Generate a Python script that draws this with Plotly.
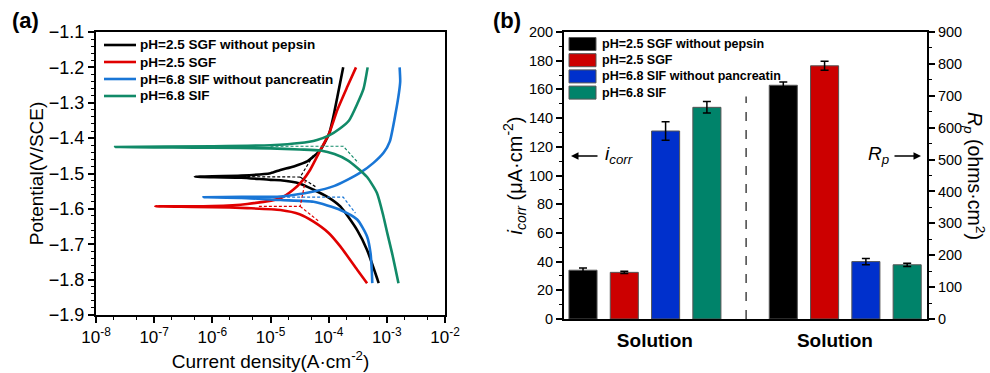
import numpy as np
import plotly.graph_objects as go

# ---------------- Panel (a): Tafel polarization data ----------------
series_names = ["pH=2.5 SGF without pepsin", "pH=2.5 SGF",
                "pH=6.8 SIF without pancreatin", "pH=6.8 SIF"]
line_colors = ["#000000", "#E00000", "#1976D6", "#118A68"]

# log10(current density) and potential for each branch
black_anodic_logi = [-6.30, -5.5, -5.0, -4.83, -4.6, -4.37, -4.14, -3.99, -3.92, -3.85, -3.75]
black_anodic_E    = [-1.509, -1.506, -1.499, -1.49, -1.48, -1.466, -1.433, -1.386, -1.34, -1.283, -1.20]
black_cath_logi   = [-6.30, -5.5, -5.0, -4.83, -4.5, -4.26, -4.0, -3.80, -3.51, -3.34, -3.16, -3.14]
black_cath_E      = [-1.509, -1.512, -1.518, -1.519, -1.528, -1.546, -1.568, -1.593, -1.66, -1.716, -1.80, -1.81]

red_anodic_logi = [-6.98, -6.0, -5.4, -4.83, -4.61, -4.45, -4.32, -4.14, -3.99, -3.85, -3.68, -3.53]
red_anodic_E    = [-1.593, -1.592, -1.586, -1.57, -1.546, -1.52, -1.49, -1.433, -1.386, -1.32, -1.255, -1.20]
red_cath_logi   = [-6.98, -6.0, -5.4, -4.83, -4.5, -4.26, -4.0, -3.80, -3.51, -3.34]
red_cath_E      = [-1.593, -1.595, -1.598, -1.603, -1.615, -1.636, -1.668, -1.706, -1.772, -1.81]

blue_anodic_logi = [-6.15, -5.5, -4.83, -4.26, -3.9, -3.68, -3.45, -3.23, -3.05, -2.95, -2.85, -2.79, -2.77, -2.78]
blue_anodic_E    = [-1.567, -1.566, -1.565, -1.551, -1.535, -1.518, -1.497, -1.47, -1.44, -1.41, -1.33, -1.27, -1.24, -1.20]
blue_cath_logi   = [-6.15, -5.5, -4.83, -4.26, -3.80, -3.51, -3.34, -3.28, -3.26, -3.25]
blue_cath_E      = [-1.567, -1.569, -1.575, -1.58, -1.603, -1.63, -1.678, -1.725, -1.77, -1.81]

green_anodic_logi = [-7.67, -6.0, -5.0, -4.5, -4.2, -4.0, -3.8, -3.65, -3.5, -3.4, -3.33]
green_anodic_E    = [-1.425, -1.423, -1.420, -1.414, -1.405, -1.393, -1.372, -1.35, -1.30, -1.26, -1.20]
green_cath_logi   = [-7.67, -6.0, -5.0, -4.5, -4.14, -3.9, -3.68, -3.5, -3.34, -3.17, -3.06, -2.99, -2.91, -2.80]
green_cath_E      = [-1.425, -1.427, -1.429, -1.432, -1.435, -1.445, -1.462, -1.485, -1.51, -1.555, -1.62, -1.67, -1.725, -1.81]

# Tafel extrapolation (dashed) lines: log10(i), E
black_fit_logi = [-5.4, -4.49, -4.26, None, -4.49, -4.20]
black_fit_E    = [-1.509, -1.510, -1.448, None, -1.510, -1.540]
red_fit_logi   = [-5.2, -4.49, -4.40, None, -4.49, -4.17]
red_fit_E      = [-1.593, -1.593, -1.52, None, -1.593, -1.635]
blue_fit_logi  = [-4.8, -3.75, -3.54]
blue_fit_E     = [-1.567, -1.567, -1.612]
green_fit_logi = [-5.0, -3.75, -3.49]
green_fit_E    = [-1.423, -1.423, -1.47]

# ---------------- Panel (b): bar data ----------------
bar_colors = ["#000000", "#CC0000", "#0030CC", "#00836A"]
icorr_vals = [34.0, 32.5, 131.0, 147.5]        # µA·cm^-2
icorr_err  = [1.5, 0.8, 6.5, 4.0]
rp_vals    = [733.0, 794.0, 180.0, 170.0]      # ohms·cm^2
rp_err     = [10.0, 14.0, 10.0, 5.0]
group_labels = ["Solution", "Solution"]

fig = go.Figure()

curves = [
    (black_cath_logi, black_cath_E, black_anodic_logi, black_anodic_E),
    (red_cath_logi, red_cath_E, red_anodic_logi, red_anodic_E),
    (blue_cath_logi, blue_cath_E, blue_anodic_logi, blue_anodic_E),
    (green_cath_logi, green_cath_E, green_anodic_logi, green_anodic_E),
]
fits = [(black_fit_logi, black_fit_E), (red_fit_logi, red_fit_E),
        (blue_fit_logi, blue_fit_E), (green_fit_logi, green_fit_E)]

def to_current(logs):
    return [None if v is None else 10 ** v for v in logs]

for k, (cl, ce, al, ae) in enumerate(curves):
    logi = list(reversed(cl)) + al[1:]
    E = list(reversed(ce)) + ae[1:]
    fig.add_trace(go.Scatter(
        x=to_current(logi), y=E, mode="lines", name=series_names[k], showlegend=False,
        line=dict(color=line_colors[k], width=2.6, shape="spline", smoothing=0.6),
        xaxis="x", yaxis="y"))
for k, (fl, fe) in enumerate(fits):
    fig.add_trace(go.Scatter(
        x=to_current(fl), y=fe, mode="lines", showlegend=False,
        line=dict(color=line_colors[k], width=1.2, dash="3px,2px"),
        connectgaps=False, xaxis="x", yaxis="y"))

pos_icorr = [i + 1 for i in range(4)]
pos_rp = [i + 5.85 for i in range(4)]
for k in range(4):
    fig.add_trace(go.Bar(
        x=[pos_icorr[k]], y=[icorr_vals[k]], width=0.68, name=series_names[k], showlegend=False,
        marker=dict(color=bar_colors[k], line=dict(color="#555555", width=1)),
        error_y=dict(type="data", array=[icorr_err[k]], color="#000000", thickness=1.5, width=4),
        xaxis="x2", yaxis="y2"))
    fig.add_trace(go.Bar(
        x=[pos_rp[k]], y=[rp_vals[k]], width=0.68, name=series_names[k], showlegend=False,
        marker=dict(color=bar_colors[k], line=dict(color="#555555", width=1)),
        error_y=dict(type="data", array=[rp_err[k]], color="#000000", thickness=1.5, width=4),
        xaxis="x2", yaxis="y3"))

FONT = "Liberation Sans, Arial, sans-serif"
W, H = 990, 373
def px(x):
    return x / W
def py(y):
    return 1 - y / H

axis_common = dict(showline=True, linewidth=2, linecolor="#000000", mirror=True,
                   ticks="outside", tickwidth=1.5, ticklen=6, tickcolor="#000000",
                   showgrid=False, zeroline=False, automargin=False)

decades = [-8, -7, -6, -5, -4, -3, -2]

def ann(text, x, y, size, xanchor="center", **kw):
    d = dict(text=text, x=px(x), y=py(y), xref="paper", yref="paper",
             xanchor=xanchor, yanchor="middle", showarrow=False, font=dict(size=size))
    d.update(kw)
    return d

shapes = [dict(type="line", xref="x2", yref="y2", x0=4.95, x1=4.95, y0=0, y1=155,
               line=dict(color="#444444", width=1.5, dash="dash"))]
annotations = [
    ann("<b>(a)</b>", 25, 20, 22),
    ann("<b>(b)</b>", 507, 20, 22),
    dict(text="", x=px(571), y=py(156), xref="paper", yref="paper",
         ax=28, ay=0, showarrow=True, arrowhead=2, arrowsize=1, arrowwidth=1.5, arrowcolor="#000000"),
    ann("<i>i<sub>corr</sub></i>", 603, 155, 19, xanchor="left"),
    dict(text="", x=px(921), y=py(156), xref="paper", yref="paper",
         ax=-28, ay=0, showarrow=True, arrowhead=2, arrowsize=1, arrowwidth=1.5, arrowcolor="#000000"),
    ann("<i>R<sub>p</sub></i>", 891, 155, 19, xanchor="right"),
    ann("<i>R<sub>p</sub></i> (ohms·cm<sup>2</sup>)", 975, 176, 19.5, textangle=90),
]
# legend of panel (a): coloured lines with labels
for k in range(4):
    yc = 45 + 17 * k
    shapes.append(dict(type="line", xref="paper", yref="paper",
                       x0=px(104), x1=px(136), y0=py(yc), y1=py(yc),
                       line=dict(color=line_colors[k], width=2.6)))
    annotations.append(dict(text=series_names[k], x=px(138), y=py(yc), xref="paper", yref="paper",
                            xanchor="left", yanchor="middle", showarrow=False,
                            font=dict(size=13.5, weight="bold")))
# legend of panel (b): coloured boxes with labels
for k in range(4):
    yc = 44 + 16.2 * k
    shapes.append(dict(type="rect", xref="paper", yref="paper",
                       x0=px(569), x1=px(596), y0=py(yc + 6.5), y1=py(yc - 6.5),
                       fillcolor=bar_colors[k], line=dict(color="#555555", width=1)))
    annotations.append(dict(text=series_names[k], x=px(600), y=py(yc), xref="paper", yref="paper",
                            xanchor="left", yanchor="middle", showarrow=False,
                            font=dict(size=12.5, weight="bold")))

fig.update_layout(
    width=W, height=H, margin=dict(l=0, r=0, t=0, b=0, autoexpand=False),
    template="none", showlegend=False,
    paper_bgcolor="white", plot_bgcolor="white",
    font=dict(family=FONT, color="#000000"),
    barmode="overlay",
    xaxis=dict(domain=[px(96), px(445)], anchor="y", type="log", range=[-8, -2],
               tickvals=[10 ** d for d in decades],
               ticktext=["10<sup>%d</sup>" % d for d in decades],
               tickfont=dict(size=17),
               minor=dict(ticks="outside", ticklen=3, tickcolor="#000000", tickwidth=1),
               title=dict(text="Current density(A·cm<sup>-2</sup>)", font=dict(size=19), standoff=8),
               **axis_common),
    yaxis=dict(domain=[py(315), py(32)], anchor="x", range=[-1.9, -1.1],
               dtick=0.1, tickformat=".1f", tickfont=dict(size=18),
               minor=dict(dtick=0.02, ticks="outside", ticklen=3, tickcolor="#000000", tickwidth=1),
               title=dict(text="Potential(V/SCE)", font=dict(size=19), standoff=0),
               **axis_common),
    xaxis2=dict(domain=[px(564), px(927)], anchor="y2", range=[0.54, 9.33],
                tickvals=[2.74, 7.1], ticktext=group_labels, ticks="",
                tickfont=dict(size=19, weight="bold"), ticklabelstandoff=3,
                showline=True, linewidth=2, linecolor="#000000", mirror=True,
                showgrid=False, zeroline=False, automargin=False),
    yaxis2=dict(domain=[py(319), py(32)], anchor="x2", range=[0, 200], dtick=20,
                tickfont=dict(size=14.5),
                minor=dict(dtick=10, ticks="outside", ticklen=3, tickcolor="#000000", tickwidth=1),
                title=dict(text="<i>i<sub>corr</sub></i> (μA·cm<sup>-2</sup>)", font=dict(size=20), standoff=0),
                showline=True, linewidth=2, linecolor="#000000", mirror=False,
                ticks="outside", tickwidth=1.5, ticklen=6, tickcolor="#000000",
                showgrid=False, zeroline=False, automargin=False),
    yaxis3=dict(overlaying="y2", side="right", anchor="x2", range=[0, 900], dtick=100,
                tickfont=dict(size=14.5),
                minor=dict(dtick=50, ticks="outside", ticklen=3, tickcolor="#000000", tickwidth=1),
                showline=True, linewidth=2, linecolor="#000000",
                ticks="outside", tickwidth=1.5, ticklen=6, tickcolor="#000000",
                showgrid=False, zeroline=False, automargin=False),
    shapes=shapes,
    annotations=annotations,
)

fig.write_html("out.html", config={"displayModeBar": False},
               post_script="document.body.style.margin='0';document.body.style.overflow='hidden';")
